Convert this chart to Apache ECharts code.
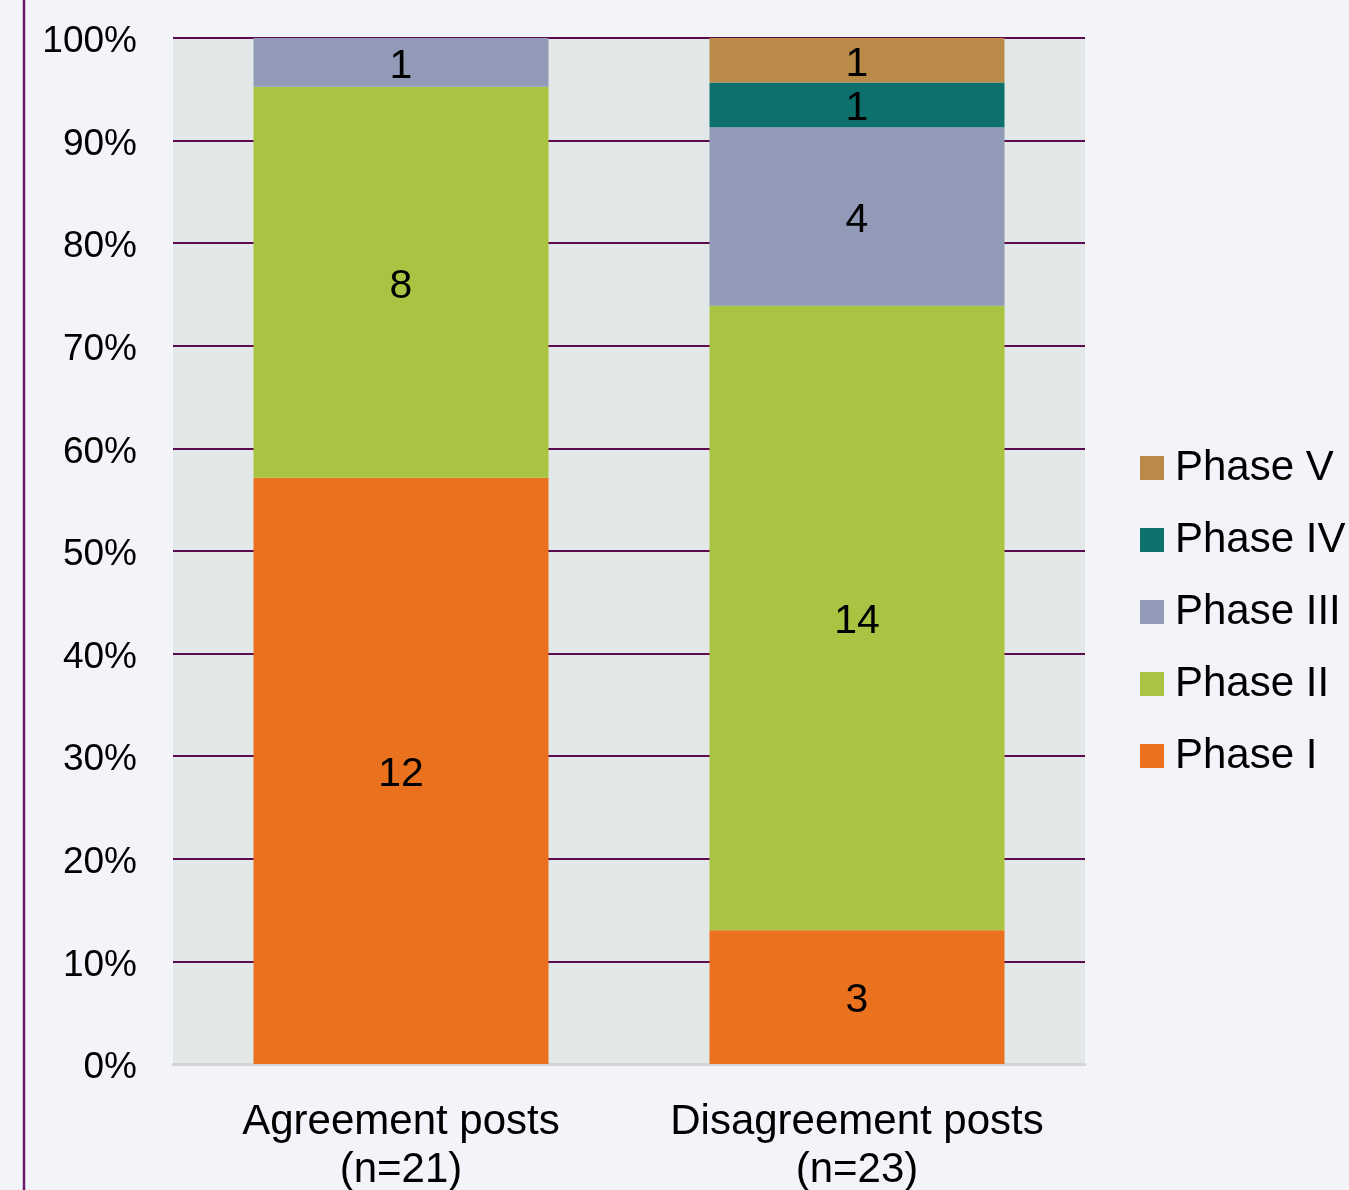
<!DOCTYPE html>
<html>
<head>
<meta charset="utf-8">
<script src="https://cdn.jsdelivr.net/npm/echarts@6/dist/echarts.min.js"></script>
<style>
  html, body { margin: 0; padding: 0; background: #f3f4f9; }
  #chart { width: 1349px; height: 1190px; }
</style>
</head>
<body>
<div id="chart"></div>
<script>
// categories + counts per phase
var categories = ['Agreement posts\n(n=21)', 'Disagreement posts\n(n=23)'];
var totals = [21, 23];
var phaseNames = ['Phase I', 'Phase II', 'Phase III', 'Phase IV', 'Phase V'];
var phaseI = [12, 3];
var phaseII = [8, 14];
var phaseIII = [1, 4];
var phaseIV = [0, 1];
var phaseV = [0, 1];
var colors = ['#ea711e', '#a9c442', '#919ab7', '#0e706c', '#b98a48'];

var counts = [phaseI, phaseII, phaseIII, phaseIV, phaseV];

var chart = echarts.init(document.getElementById('chart'));

var series = counts.map(function (arr, i) {
    return {
        name: phaseNames[i],
        type: 'bar',
        stack: 'total',
        barWidth: 295,
        itemStyle: { color: colors[i] },
        label: {
            show: true,
            color: '#000',
            fontSize: 41,
            offset: [0, 4],
            formatter: function (p) { return arr[p.dataIndex]; }
        },
        data: arr.map(function (v, j) {
            // percent of posts in the category, empty segments left out
            return v ? v / totals[j] * 100 : null;
        })
    };
});

var option = {
    backgroundColor: '#f3f4f9',
    animation: false,
    textStyle: { fontFamily: 'Liberation Sans' },
    grid: {
        left: 173, right: 264, top: 38, bottom: 126,
        outerBoundsMode: 'none',
        show: true, backgroundColor: '#e2e8e8', borderWidth: 0
    },
    legend: {
        orient: 'vertical',
        left: 1140,
        top: 444,
        padding: 0,
        data: ['Phase V', 'Phase IV', 'Phase III', 'Phase II', 'Phase I'],
        itemWidth: 24,
        itemHeight: 24,
        itemGap: 24,
        icon: 'rect',
        textStyle: { fontSize: 42, lineHeight: 48, color: '#000', padding: [0, 0, 0, 6] }
    },
    xAxis: {
        type: 'category',
        data: categories,
        axisTick: { show: false },
        axisLine: { lineStyle: { color: '#d3d4d6', width: 3 } },
        axisLabel: { interval: 0, fontSize: 42, color: '#000', margin: 34, lineHeight: 48 }
    },
    yAxis: {
        type: 'value',
        min: 0, max: 100, interval: 10,
        axisLine: { show: false },
        axisTick: { show: false },
        axisLabel: { formatter: '{value}%', fontSize: 37, color: '#000', margin: 36, verticalAlign: 'top', lineHeight: 8 },
        splitLine: { lineStyle: { color: '#5c0a4e', width: 2 } }
    },
    graphic: [{
        type: 'line',
        shape: { x1: 24, y1: 0, x2: 24, y2: 1190 },
        style: { stroke: '#6b1a6b', lineWidth: 2.5 }
    }],
    series: series
};

chart.setOption(option);
</script>
</body>
</html>
